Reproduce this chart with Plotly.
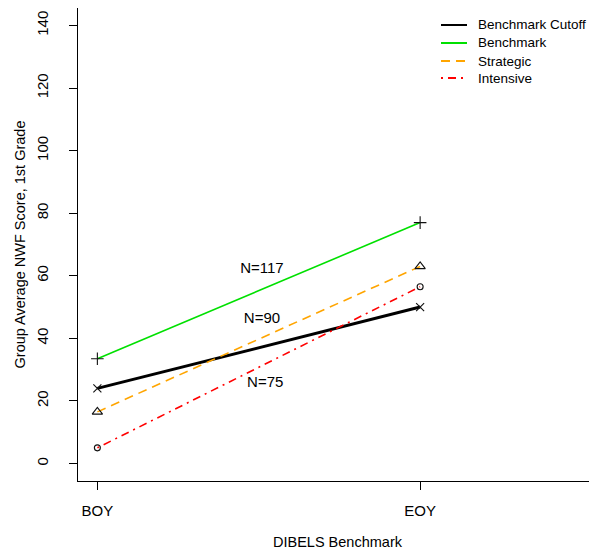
import plotly.graph_objects as go

# Data
time_points = [1, 2]
tick_labels = ["BOY", "EOY"]
cutoff = [24, 50]
benchmark = [33.5, 77]
strategic = [16.5, 63]
intensive = [5, 56.5]
y_ticks = [0, 20, 40, 60, 80, 100, 120, 140]

n_labels = ["N=117", "N=90", "N=75"]
n_x = [1.51, 1.51, 1.52]
n_y = [62, 46, 25.5]

FONT = "Liberation Sans, Arial, sans-serif"

# page has an 8px body margin: figure is sized to fit the 597x560 window
W, H = 589, 552
ML, MR, MT, MB = 70, 0, 0, 79
PW, PH = W - ML - MR, H - MT - MB


def px_x(px):
    return (px - 8 - ML) / PW


def px_y(py):
    return 1 - (py - 8 - MT) / PH


series = [
    ("Benchmark Cutoff", cutoff, "black", 3, "solid", "x-thin-open", 8),
    ("Benchmark", benchmark, "#00e000", 1.6, "solid", "cross-thin-open", 9),
    ("Strategic", strategic, "orange", 1.6, "9px,6px", "triangle-up-open", 9),
    ("Intensive", intensive, "red", 1.6, "2px,5px,8px,5px", "circle-open", 6),
]

fig = go.Figure()
for name, ys, col, w, dash, sym, msize in series:
    fig.add_trace(go.Scatter(
        x=time_points, y=ys, mode="lines", name=name, showlegend=False,
        line=dict(color=col, width=w, dash=dash), hoverinfo="skip"))
    fig.add_trace(go.Scatter(
        x=time_points, y=ys, mode="markers", name=name, showlegend=False,
        marker=dict(symbol=sym, size=msize, color="#111111",
                    line=dict(color="#111111", width=1.1))))

fig.add_trace(go.Scatter(
    x=n_x, y=n_y, mode="text", text=n_labels, showlegend=False,
    textfont=dict(family=FONT, size=15, color="black")))

# manual legend (R-style, no box)
legend_rows = [25, 43, 61, 78]
for (name, ys, col, w, dash, sym, msize), ry in zip(series, legend_rows):
    fig.add_shape(type="line", xref="paper", yref="paper",
                  x0=px_x(441), x1=px_x(467), y0=px_y(ry), y1=px_y(ry),
                  line=dict(color=col, width=2, dash=dash))
    fig.add_annotation(xref="paper", yref="paper", x=px_x(476), y=px_y(ry),
                       xanchor="left", yanchor="middle", text=name,
                       showarrow=False,
                       font=dict(family=FONT, size=13.5, color="black"))

fig.update_layout(
    width=W, height=H,
    margin=dict(l=ML, r=MR, t=MT, b=MB, autoexpand=False),
    paper_bgcolor="white", plot_bgcolor="white",
    font=dict(family=FONT, size=15, color="black"),
    showlegend=False,
    xaxis=dict(
        range=[0.94, 2.548], tickmode="array", tickvals=time_points,
        ticktext=tick_labels, showgrid=False, zeroline=False,
        showline=True, linecolor="black", linewidth=1, mirror=True,
        ticks="outside", ticklen=8, tickcolor="black", tickwidth=1,
        tickfont=dict(size=15), ticklabelstandoff=8,
        title=dict(text="DIBELS Benchmark", font=dict(size=14.5), standoff=18),
        automargin=False,
    ),
    yaxis=dict(
        range=[-5.6, 145.6], tickmode="array", tickvals=y_ticks,
        showgrid=False, zeroline=False,
        showline=True, linecolor="black", linewidth=1, mirror=False,
        ticks="outside", ticklen=8, tickcolor="black", tickwidth=1,
        tickangle=-90, tickfont=dict(size=15), ticklabelstandoff=15,
        title=dict(text="Group Average NWF Score, 1st Grade",
                   font=dict(size=14.5), standoff=4),
        automargin=False,
    ),
)

fig.write_html("out.html")
